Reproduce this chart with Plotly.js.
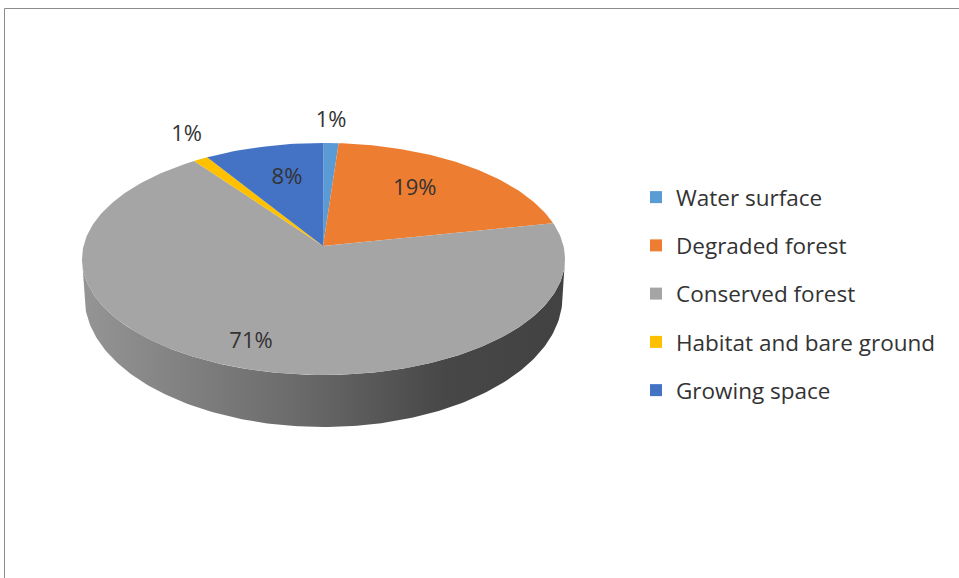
<!DOCTYPE html>
<html>
<head>
<meta charset="utf-8">
<script src="https://cdn.plot.ly/plotly-3.0.1.min.js"></script>
<style>html,body{margin:0;padding:0;background:#fff;}#chart{width:959px;height:578px;}</style>
</head>
<body>
<div id="chart"></div>
<script>
// ---- data ----
const categories = ["Water surface", "Degraded forest", "Conserved forest", "Habitat and bare ground", "Growing space"];
const shares = [1, 19, 71, 1, 8];
const colors = ["#5B9BD5", "#ED7D31", "#A5A5A5", "#FFC000", "#4472C4"];
const labelR = [1.07, 0.62, 0.88, 1.11, 0.6];

// ---- geometry (pixel-like axes) ----
const W = 959, H = 578;
const cx = 323.5, cy = 259, rx = 241.5, ry = 116;       // top ellipse
const cxb = 323.5, cyb = 297, rxb = 239, ryb = 130;      // bottom ellipse
const ax = 323, ay = 246;                                // apex (perspective)
const rad = d => d * Math.PI / 180;
const topPt = d => [cx + rx * Math.sin(rad(d)), cy - ry * Math.cos(rad(d))];
const botPt = d => [cxb + rxb * Math.sin(rad(d)), cyb - ryb * Math.cos(rad(d))];

const total = shares.reduce((a, b) => a + b, 0);
const traces = [];

// side wall (front half)
{
  const xs = [], ys = [];
  for (let d = 90; d <= 270; d += 1) { const p = topPt(d); xs.push(p[0]); ys.push(p[1]); }
  for (let d = 270; d >= 90; d -= 1) { const p = botPt(d); xs.push(p[0]); ys.push(p[1]); }
  traces.push({
    type: "scatter", mode: "lines", x: xs, y: ys, fill: "toself",
    line: { width: 0, color: "rgba(0,0,0,0)" },
    fillgradient: { type: "horizontal", colorscale: [[0, "#959595"], [0.45, "#6a6a6a"], [0.75, "#474747"], [1, "#424242"]] },
    fillcolor: "#666", showlegend: false, hoverinfo: "skip"
  });
}

// top slices
let cum = 0;
const lx = [], ly = [], lt = [];
shares.forEach((v, i) => {
  const a0 = cum / total * 360, a1 = (cum + v) / total * 360;
  cum += v;
  const xs = [ax], ys = [ay];
  const n = Math.max(2, Math.ceil(a1 - a0));
  for (let k = 0; k <= n; k++) { const p = topPt(a0 + (a1 - a0) * k / n); xs.push(p[0]); ys.push(p[1]); }
  xs.push(ax); ys.push(ay);
  traces.push({
    type: "scatter", mode: "lines", x: xs, y: ys, fill: "toself",
    fillcolor: colors[i], line: { width: 0, color: colors[i] },
    showlegend: false, name: categories[i], hoverinfo: "name"
  });
  const m = rad((a0 + a1) / 2);
  lx.push(ax + labelR[i] * rx * Math.sin(m));
  ly.push(ay - labelR[i] * ry * Math.cos(m));
  lt.push(v + "%");
});

// data labels
traces.push({
  type: "scatter", mode: "text", x: lx, y: ly, text: lt,
  textfont: { family: "Open Sans", size: 22, color: "#333333" },
  textposition: "middle center", showlegend: false, hoverinfo: "skip"
});

// legend entries
categories.forEach((c, i) => {
  traces.push({
    type: "scatter", mode: "markers", x: [null], y: [null], name: c,
    legendgroup: "g" + i,
    marker: { symbol: "square", size: 12, color: colors[i] }
  });
});

const layout = {
  width: W, height: H,
  margin: { l: 0, r: 0, t: 0, b: 0 },
  paper_bgcolor: "#fff", plot_bgcolor: "#fff",
  xaxis: { range: [0, W], visible: false, fixedrange: true },
  yaxis: { range: [H, 0], visible: false, fixedrange: true },
  showlegend: true,
  legend: {
    x: 636 / W, y: 1 - 176 / H, xanchor: "left", yanchor: "top",
    font: { family: "Open Sans", size: 22.5, color: "#333333" },
    tracegroupgap: 16, bgcolor: "rgba(0,0,0,0)"
  },
  shapes: [{
    type: "rect", xref: "x", yref: "y", x0: 4.5, y0: 8.5, x1: W + 20, y1: H + 20,
    line: { color: "#8c8c8c", width: 1 }, fillcolor: "rgba(0,0,0,0)", layer: "below"
  }]
};

Plotly.newPlot("chart", traces, layout, { displayModeBar: false, staticPlot: true });
</script>
</body>
</html>
